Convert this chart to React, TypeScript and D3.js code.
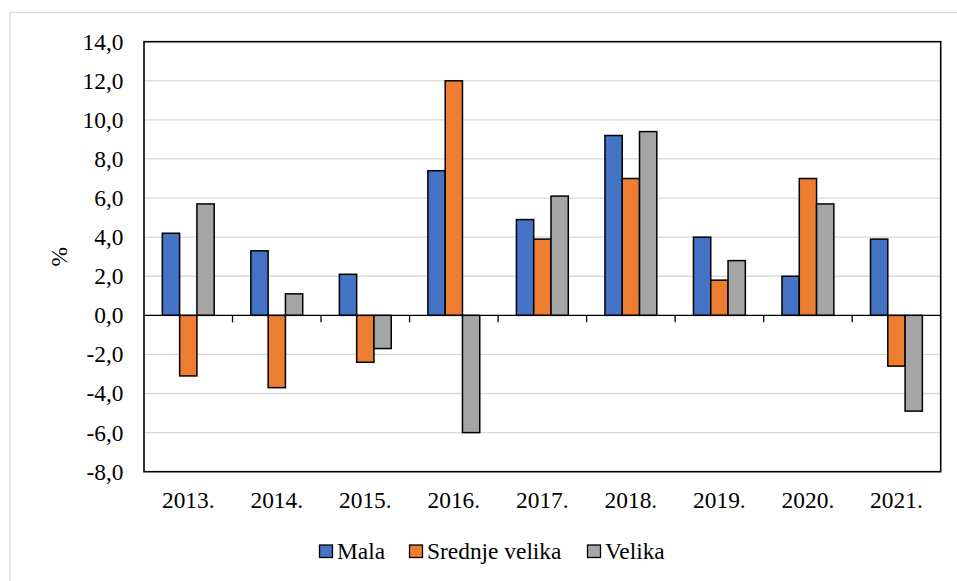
import React from "react";
import * as d3 from "d3";

const categories = ["2013.", "2014.", "2015.", "2016.", "2017.", "2018.", "2019.", "2020.", "2021."];
const seriesNames = ["Mala", "Srednje velika", "Velika"];
const mala = [4.2, 3.3, 2.1, 7.4, 4.9, 9.2, 4.0, 2.0, 3.9];
const srednjeVelika = [-3.1, -3.7, -2.4, 12.0, 3.9, 7.0, 1.8, 7.0, -2.6];
const velika = [5.7, 1.1, -1.7, -6.0, 6.1, 9.4, 2.8, 5.7, -4.9];
const yTicks = [-8, -6, -4, -2, 0, 2, 4, 6, 8, 10, 12, 14];
const colors = ["#4472C4", "#ED7D31", "#A5A5A5"];

const W = 957;
const H = 581;
const plot = { left: 144, right: 940.7, top: 41.7, bottom: 471.7 };
const FONT = '"Liberation Serif", "Times New Roman", "DejaVu Serif", serif';
const textStyle = { fontFamily: FONT, fontSize: "23.4px" };

export default function App() {
  const series = [mala, srednjeVelika, velika];
  const x = d3.scaleBand<string>().domain(categories).range([plot.left, plot.right]).paddingInner(0).paddingOuter(0);
  const inner = d3
    .scaleBand<number>()
    .domain([0, 1, 2])
    .range([0, x.bandwidth()])
    .paddingOuter(1.06)
    .paddingInner(0);
  const y = d3.scaleLinear().domain([-8, 14]).range([plot.bottom, plot.top]);
  const fmt = (v: number) => v.toFixed(1).replace(".", ",");

  const legendItems = [
    { x: 319.5, tx: 337 },
    { x: 409.5, tx: 427 },
    { x: 587.5, tx: 605 },
  ];

  return (
    <svg
      width={W}
      height={H}
      style={{ position: "absolute", left: 0, top: 0, background: "#fff" }}
    >
      <rect x={0} y={0} width={W} height={H} fill="#fff" />
      <rect x={10} y={12.5} width={W + 20} height={H + 20} fill="#fff" stroke="#d9d9d9" strokeWidth={1.3} />
      {/* gridlines */}
      {yTicks.map((t) =>
        t === 14 || t === -8 || t === 0 ? null : (
          <line key={t} x1={plot.left} x2={plot.right} y1={y(t)} y2={y(t)} stroke="#d9d9d9" strokeWidth={1.3} />
        )
      )}
      {/* bars */}
      {series.map((vals, si) =>
        vals.map((v, ci) => {
          const bx = (x(categories[ci]) as number) + (inner(si) as number);
          const y0 = y(0);
          const y1 = y(v);
          return (
            <rect
              key={`${si}-${ci}`}
              x={bx}
              y={Math.min(y0, y1)}
              width={inner.bandwidth()}
              height={Math.abs(y1 - y0)}
              fill={colors[si]}
              stroke="#000"
              strokeWidth={1.5}
            />
          );
        })
      )}
      {/* zero axis and ticks */}
      <line x1={plot.left} x2={plot.right} y1={y(0)} y2={y(0)} stroke="#000" strokeWidth={1.4} />
      {categories.map((c, i) =>
        i === 0 ? null : (
          <line key={c} x1={x(c) as number} x2={x(c) as number} y1={y(0)} y2={y(0) + 7} stroke="#000" strokeWidth={1.3} />
        )
      )}
      {/* plot border */}
      <rect
        x={plot.left}
        y={plot.top}
        width={plot.right - plot.left}
        height={plot.bottom - plot.top}
        fill="none"
        stroke="#000"
        strokeWidth={1.6}
      />
      {/* y tick labels */}
      {yTicks.map((t) => (
        <text key={t} x={123.5} y={y(t)} dy="0.34em" textAnchor="end" style={textStyle} fill="#000">
          {fmt(t)}
        </text>
      ))}
      {/* x labels */}
      {categories.map((c) => (
        <text key={c} x={(x(c) as number) + x.bandwidth() / 2} y={508} textAnchor="middle" style={textStyle} fill="#000">
          {c}
        </text>
      ))}
      {/* y axis title */}
      <text transform={`translate(67,${(plot.top + plot.bottom) / 2}) rotate(-90)`} textAnchor="middle" style={textStyle} fill="#000">
        %
      </text>
      {/* legend */}
      {seriesNames.map((n, i) => (
        <g key={n}>
          <rect x={legendItems[i].x} y={545} width={13} height={12.5} fill={colors[i]} stroke="#000" strokeWidth={1.3} />
          <text x={legendItems[i].tx} y={559} style={textStyle} fill="#000">
            {n}
          </text>
        </g>
      ))}
    </svg>
  );
}
